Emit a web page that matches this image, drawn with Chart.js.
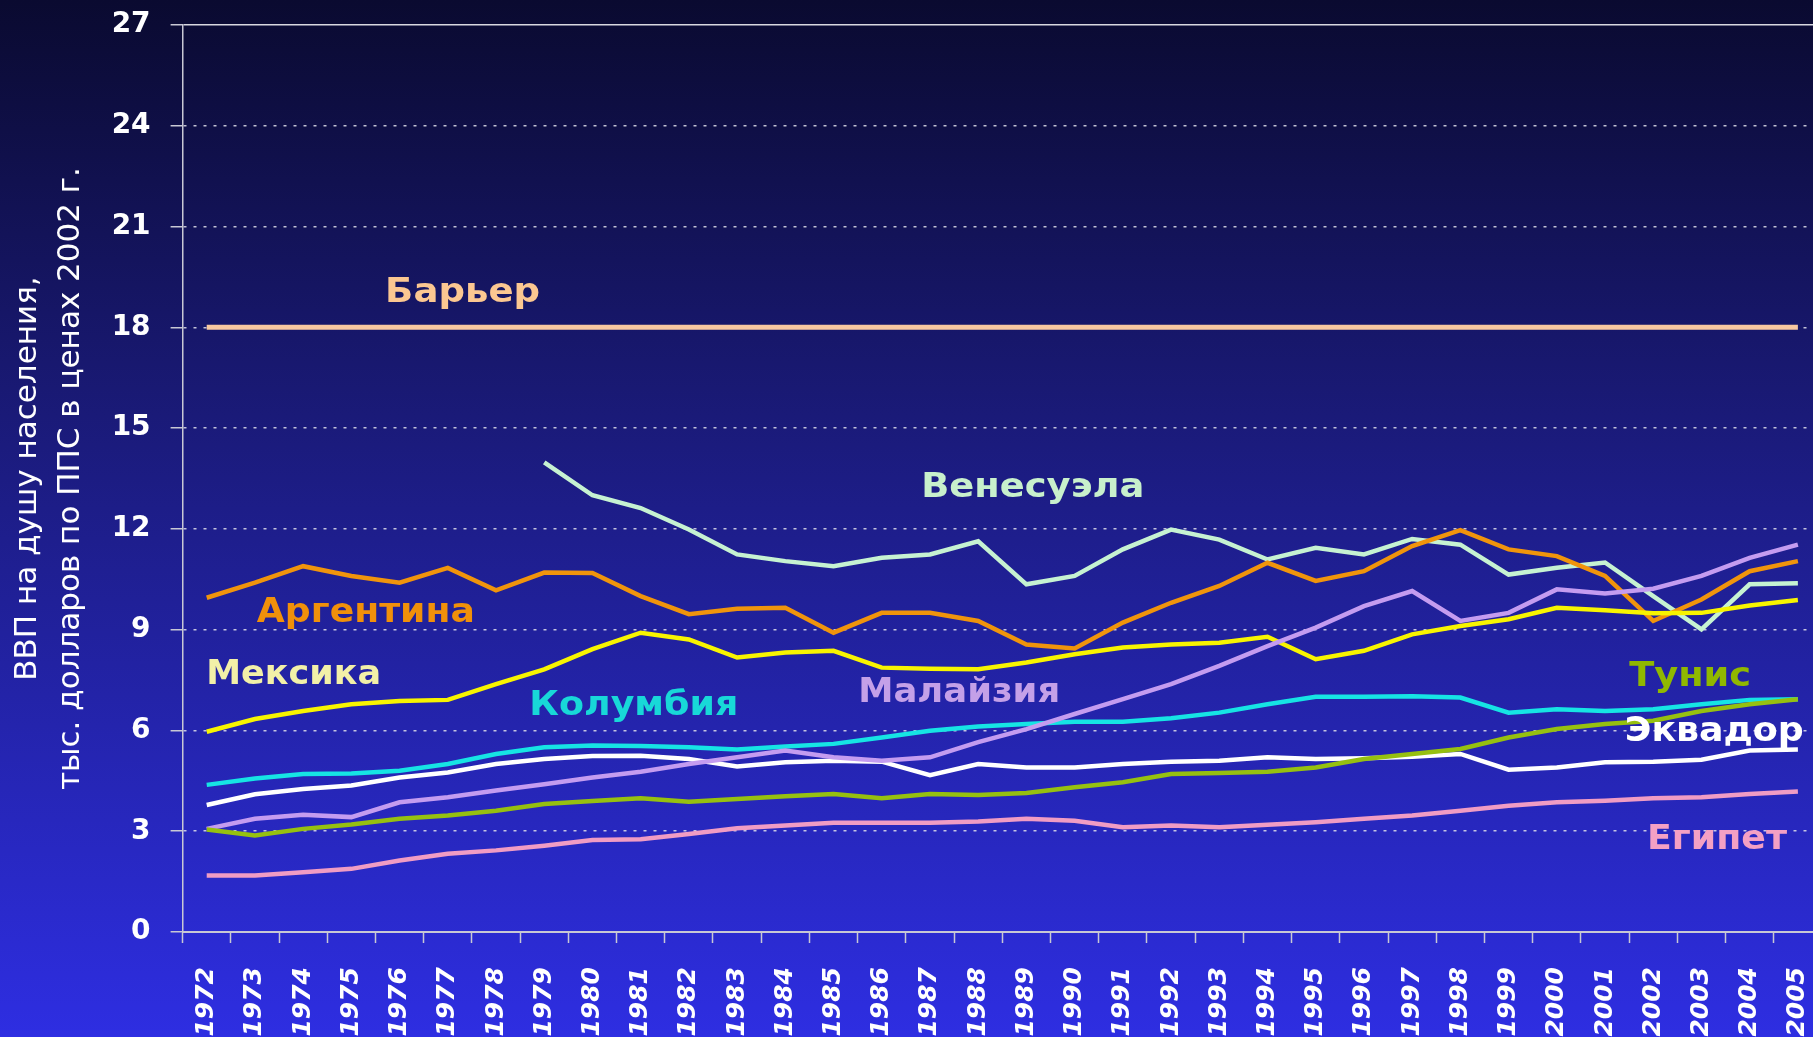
<!DOCTYPE html>
<html lang="ru">
<head>
    <meta charset="UTF-8">
    <title>ВВП на душу населения</title>
    <script src="https://cdn.jsdelivr.net/npm/chart.js"></script>
    <style>
        html, body { margin: 0; padding: 0; overflow: hidden; }
        body {
            width: 1813px;
            height: 1037px;
            background: linear-gradient(to bottom, #0a0a30 0%, #1a1a78 40%, #2e2ee2 100%);
        }
        #wrap { position: relative; width: 1822px; height: 1037px; }
    </style>
</head>
<body>
    <div id="wrap"><canvas id="gdpChart" width="1822" height="1037"></canvas></div>
    <script>
        // years on the x axis
        const years = [1972, 1973, 1974, 1975, 1976, 1977, 1978, 1979, 1980, 1981, 1982, 1983,
            1984, 1985, 1986, 1987, 1988, 1989, 1990, 1991, 1992, 1993, 1994, 1995, 1996, 1997,
            1998, 1999, 2000, 2001, 2002, 2003, 2004, 2005];

        const yTicks = [0, 3, 6, 9, 12, 15, 18, 21, 24, 27];

        // GDP per capita, thousand USD PPP (2002 prices)
        const barrier = [18, 18, 18, 18, 18, 18, 18, 18, 18, 18, 18, 18, 18, 18, 18, 18, 18,
            18, 18, 18, 18, 18, 18, 18, 18, 18, 18, 18, 18, 18, 18, 18, 18, 18];
        const venezuela = [null, null, null, null, null, null, null, 13.98, 13.0, 12.62, 11.98,
            11.24, 11.04, 10.89, 11.14, 11.24, 11.63, 10.35, 10.6, 11.39, 11.98, 11.68, 11.09,
            11.44, 11.24, 11.7, 11.53, 10.64, 10.84, 11.0, 10.0, 9.01, 10.35, 10.38];
        const argentina = [9.95, 10.4, 10.89, 10.6, 10.4, 10.84, 10.17, 10.7, 10.69, 10.0, 9.46,
            9.62, 9.65, 8.91, 9.5, 9.5, 9.26, 8.56, 8.44, 9.21, 9.8, 10.3, 10.99, 10.45, 10.74,
            11.49, 11.96, 11.39, 11.19, 10.6, 9.26, 9.9, 10.74, 11.04];
        const mexico = [5.96, 6.34, 6.58, 6.78, 6.88, 6.91, 7.38, 7.82, 8.42, 8.91, 8.71, 8.17,
            8.32, 8.37, 7.87, 7.84, 7.82, 8.02, 8.27, 8.47, 8.56, 8.61, 8.79, 8.12, 8.37, 8.86,
            9.11, 9.31, 9.65, 9.58, 9.49, 9.5, 9.72, 9.88];
        const colombia = [4.38, 4.57, 4.7, 4.72, 4.8, 5.0, 5.3, 5.5, 5.55, 5.54, 5.5, 5.43, 5.52,
            5.6, 5.79, 5.99, 6.12, 6.19, 6.26, 6.26, 6.36, 6.53, 6.78, 7.0, 7.0, 7.02, 6.98, 6.53,
            6.63, 6.58, 6.63, 6.78, 6.91, 6.93];
        const ecuador = [3.78, 4.1, 4.26, 4.36, 4.6, 4.75, 5.0, 5.15, 5.24, 5.25, 5.15, 4.93,
            5.05, 5.1, 5.07, 4.67, 5.0, 4.9, 4.9, 5.0, 5.07, 5.1, 5.2, 5.15, 5.17, 5.22, 5.3,
            4.83, 4.9, 5.05, 5.07, 5.13, 5.4, 5.43];
        const malaysia = [3.07, 3.37, 3.49, 3.42, 3.86, 4.01, 4.21, 4.4, 4.6, 4.77, 5.0, 5.2,
            5.4, 5.2, 5.1, 5.2, 5.65, 6.04, 6.49, 6.93, 7.38, 7.92, 8.51, 9.06, 9.7, 10.15, 9.26,
            9.5, 10.2, 10.08, 10.22, 10.6, 11.14, 11.53];
        const tunisia = [3.05, 2.87, 3.07, 3.2, 3.37, 3.47, 3.61, 3.81, 3.9, 3.98, 3.88, 3.96,
            4.04, 4.11, 3.98, 4.11, 4.08, 4.14, 4.31, 4.46, 4.7, 4.73, 4.77, 4.9, 5.15, 5.3,
            5.45, 5.79, 6.04, 6.19, 6.29, 6.58, 6.78, 6.93];
        const egypt = [1.68, 1.68, 1.78, 1.88, 2.13, 2.33, 2.43, 2.57, 2.74, 2.76, 2.92, 3.09,
            3.17, 3.25, 3.25, 3.25, 3.29, 3.37, 3.31, 3.12, 3.17, 3.12, 3.19, 3.27, 3.37, 3.47,
            3.61, 3.76, 3.86, 3.91, 3.98, 4.01, 4.11, 4.18];

        const series = [
            { name: 'Барьер', data: barrier, color: '#f8c8a0', width: 5 },
            { name: 'Египет', data: egypt, color: '#f09cc4', width: 4.5 },
            { name: 'Тунис', data: tunisia, color: '#96c010', width: 4.5 },
            { name: 'Малайзия', data: malaysia, color: '#c49cf0', width: 4.5 },
            { name: 'Эквадор', data: ecuador, color: '#ffffff', width: 4.5 },
            { name: 'Колумбия', data: colombia, color: '#16e4e4', width: 4.5 },
            { name: 'Мексика', data: mexico, color: '#f8f400', width: 4.5 },
            { name: 'Аргентина', data: argentina, color: '#f0940c', width: 4.5 },
            { name: 'Венесуэла', data: venezuela, color: '#c6f2d2', width: 4.5 }
        ];

        // in-chart names: anchor = category index (left edge of text) and value (text middle)
        const seriesLabels = [
            { text: 'Барьер', at: 3.7, value: 19.0, width: 155, color: '#fbc791' },
            { text: 'Венесуэла', at: 14.82, value: 13.19, width: 223, color: '#c8f0cc' },
            { text: 'Аргентина', at: 1.04, value: 9.47, width: 218, color: '#f0900a' },
            { text: 'Мексика', at: -0.01, value: 7.65, width: 175, color: '#f2f0a8' },
            { text: 'Колумбия', at: 6.69, value: 6.73, width: 209, color: '#18d8d8' },
            { text: 'Малайзия', at: 13.51, value: 7.09, width: 202, color: '#c4a0e8' },
            { text: 'Тунис', at: 29.5, value: 7.59, width: 122, color: '#90b800' },
            { text: 'Эквадор', at: 29.41, value: 5.95, width: 179, color: '#ffffff' },
            { text: 'Египет', at: 29.87, value: 2.74, width: 140, color: '#f4a0c4' }
        ];

        const labelPlugin = {
            id: 'seriesLabels',
            afterDatasetsDraw(chart) {
                const { ctx, scales: { x, y } } = chart;
                ctx.save();
                ctx.font = 'bold 33px "DejaVu Sans"';
                ctx.textBaseline = 'middle';
                seriesLabels.forEach(l => {
                    const w = ctx.measureText(l.text).width;
                    ctx.save();
                    ctx.translate(x.getPixelForValue(l.at), y.getPixelForValue(l.value));
                    ctx.scale(l.width / w, 1);
                    ctx.fillStyle = l.color;
                    ctx.fillText(l.text, 0, 0);
                    ctx.restore();
                });
                ctx.restore();
            }
        };

        // keep the plot box where the slide had it: no extra label padding
        function noPadding(s) {
            s.paddingLeft = 0;
            s.paddingRight = 0;
            s.paddingTop = 0;
            s.paddingBottom = 0;
        }

        const ctx = document.getElementById('gdpChart').getContext('2d');
        new Chart(ctx, {
            type: 'line',
            data: {
                labels: years,
                datasets: series.map(s => ({
                    label: s.name,
                    data: s.data,
                    borderColor: s.color,
                    borderWidth: s.width,
                    pointRadius: 0,
                    tension: 0,
                    fill: false
                }))
            },
            options: {
                responsive: false,
                animation: false,
                events: [],
                layout: { padding: { top: 25, left: 0, right: 0, bottom: 0 } },
                plugins: {
                    legend: { display: false },
                    tooltip: { enabled: false }
                },
                scales: {
                    x: {
                        offset: true,
                        grid: {
                            offset: true,
                            drawOnChartArea: false,
                            tickLength: 11,
                            tickColor: '#c8c8d4',
                            tickWidth: 1.5
                        },
                        border: { color: '#c8c8d4', width: 2 },
                        ticks: {
                            autoSkip: false,
                            minRotation: 90,
                            maxRotation: 90,
                            padding: 24,
                            color: '#ffffff',
                            font: { family: 'DejaVu Sans', size: 25, style: 'italic', weight: 'bold' }
                        },
                        afterFit: s => { s.height = 105; noPadding(s); }
                    },
                    y: {
                        min: 0,
                        max: 27,
                        afterBuildTicks: s => { s.ticks = yTicks.map(v => ({ value: v })); },
                        ticks: {
                            padding: 20,
                            color: '#ffffff',
                            font: { family: 'DejaVu Sans', size: 28, weight: 'bold' }
                        },
                        grid: {
                            color: ctx => ctx.tick && ctx.tick.value === 27 ? '#d8d8e0' : 'rgba(225,225,235,0.85)',
                            lineWidth: 1.5,
                            tickLength: 12,
                            tickColor: '#c8c8d4',
                            tickWidth: 1.5
                        },
                        border: {
                            color: '#c8c8d4',
                            width: 1.5,
                            dash: ctx => (ctx.tick && ctx.tick.value !== 27) ? [3, 7] : []
                        },
                        title: {
                            display: true,
                            text: ['ВВП на душу населения,', 'тыс. долларов по ППС в ценах 2002 г.'],
                            color: '#ffffff',
                            font: { family: 'DejaVu Sans', size: 31, lineHeight: 1.38 },
                            padding: { top: 7, bottom: 0 }
                        },
                        afterFit: s => { s.width = 182.6; noPadding(s); }
                    }
                }
            },
            plugins: [labelPlugin]
        });
    </script>
</body>
</html>
